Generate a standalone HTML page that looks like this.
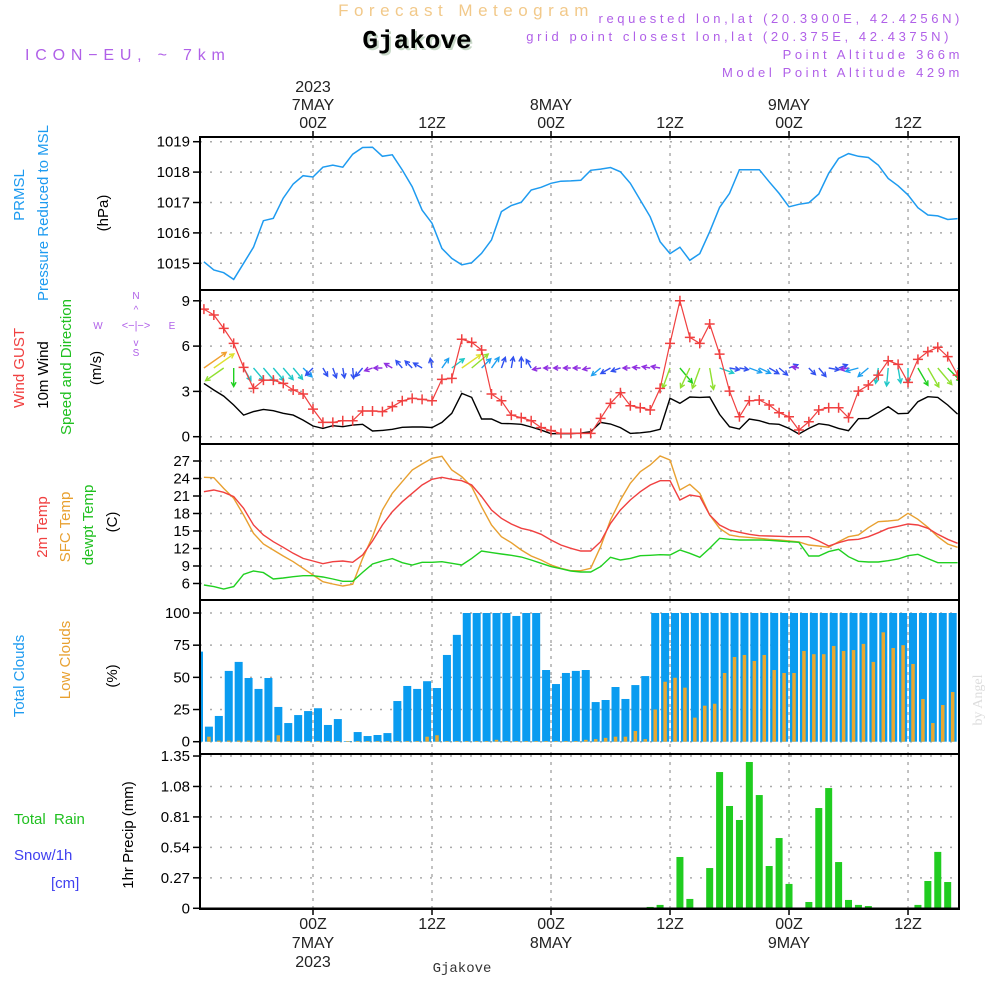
<!DOCTYPE html>
<html><head><meta charset="utf-8"><title>Forecast Meteogram Gjakove</title>
<style>
html,body{margin:0;padding:0;background:#fff;}
svg{display:block;font-family:"Liberation Sans",sans-serif;}
</style></head>
<body>
<svg id="chart" width="1000" height="1000" viewBox="0 0 1000 1000" xmlns="http://www.w3.org/2000/svg">
<rect width="1000" height="1000" fill="#fff"/>
<g id="header">
<text x="466" y="16" text-anchor="middle" font-size="17" fill="#f2c98a" letter-spacing="5.5">Forecast Meteogram</text>
<text x="419" y="50" text-anchor="middle" font-size="26" font-weight="bold" font-family="Liberation Mono,monospace" fill="#c8d8c8">Gjakove</text>
<text x="417" y="48" text-anchor="middle" font-size="26" font-weight="bold" font-family="Liberation Mono,monospace" fill="#000">Gjakove</text>
<text x="25" y="60" font-size="16" fill="#b060e8" letter-spacing="5.8">ICON−EU, ~ 7km</text>
<text x="963" y="23" text-anchor="end" font-size="13" fill="#b060e8" letter-spacing="3.6">requested lon,lat (20.3900E, 42.4256N)</text>
<text x="952" y="41" text-anchor="end" font-size="13" fill="#b060e8" letter-spacing="3.6">grid point closest lon,lat (20.375E, 42.4375N)</text>
<text x="963" y="59" text-anchor="end" font-size="13" fill="#b060e8" letter-spacing="3.6">Point Altitude 366m</text>
<text x="963" y="77" text-anchor="end" font-size="13" fill="#b060e8" letter-spacing="3.6">Model Point Altitude 429m</text>
</g>
<g id="grid"></g>
<g id="marks"></g>
<g id="frames"></g>
<g id="labels" font-size="14" fill="#000"></g>
<g id="side">
<text transform="translate(24,195) rotate(-90)" text-anchor="middle" font-size="15" fill="#1e9bf0">PRMSL</text>
<text transform="translate(48,213) rotate(-90)" text-anchor="middle" font-size="15" fill="#1e9bf0">Pressure Reduced to MSL</text>
<text transform="translate(108,213) rotate(-90)" text-anchor="middle" font-size="15" fill="#000">(hPa)</text>
<text transform="translate(24,368) rotate(-90)" text-anchor="middle" font-size="15" fill="#f04040">Wind GUST</text>
<text transform="translate(48,375) rotate(-90)" text-anchor="middle" font-size="15" fill="#000">10m Wind</text>
<text transform="translate(71,367) rotate(-90)" text-anchor="middle" font-size="15" fill="#20c020">Speed and Direction</text>
<text transform="translate(101,368) rotate(-90)" text-anchor="middle" font-size="15" fill="#000">(m/s)</text>
<g fill="#b060e8" font-size="10" text-anchor="middle">
<text x="136" y="299">N</text><text x="136" y="356">S</text><text x="98" y="329">W</text><text x="172" y="329">E</text>
<text x="136" y="329" font-size="11">&lt;−|−&gt;</text><text x="136" y="313" font-size="10">^</text><text x="136" y="346" font-size="10">v</text>
</g>
<text transform="translate(47,527) rotate(-90)" text-anchor="middle" font-size="15" fill="#f04040">2m Temp</text>
<text transform="translate(70,527) rotate(-90)" text-anchor="middle" font-size="15" fill="#e8a030">SFC Temp</text>
<text transform="translate(93,525) rotate(-90)" text-anchor="middle" font-size="15" fill="#20c020">dewpt Temp</text>
<text transform="translate(117,522) rotate(-90)" text-anchor="middle" font-size="15" fill="#000">(C)</text>
<text transform="translate(24,676) rotate(-90)" text-anchor="middle" font-size="15" fill="#1e9bf0">Total Clouds</text>
<text transform="translate(70,660) rotate(-90)" text-anchor="middle" font-size="15" fill="#e8a030">Low Clouds</text>
<text transform="translate(117,676) rotate(-90)" text-anchor="middle" font-size="15" fill="#000">(%)</text>
<text x="14" y="824" font-size="15" fill="#20c020" xml:space="preserve">Total  Rain</text>
<text x="14" y="860" font-size="15" fill="#4040f0">Snow/1h</text>
<text x="51" y="888" font-size="15" fill="#4040f0">[cm]</text>
<text transform="translate(133,835) rotate(-90)" text-anchor="middle" font-size="15" fill="#000">1hr Precip (mm)</text>
<text transform="translate(982,700) rotate(-90)" text-anchor="middle" font-size="14" font-family="Liberation Serif,serif" fill="#ddd">by Angel</text>
<text x="462" y="972" text-anchor="middle" font-size="14" font-family="Liberation Mono,monospace" fill="#333">Gjakove</text>
</g>
</svg>
<script>
const pressure=[1015.05,1014.78,1014.69,1014.47,1015.0,1015.53,1016.40,1016.48,1017.14,1017.61,1017.88,1017.84,1018.16,1018.23,1018.16,1018.59,1018.81,1018.82,1018.52,1018.57,1018.07,1017.52,1016.75,1016.32,1015.49,1015.16,1014.95,1015.02,1015.33,1015.77,1016.70,1016.90,1017.01,1017.41,1017.50,1017.63,1017.70,1017.71,1017.73,1018.06,1018.10,1018.15,1018.01,1017.63,1017.08,1016.53,1015.71,1015.32,1015.53,1015.10,1015.32,1016.04,1016.84,1017.30,1018.08,1018.08,1018.08,1017.68,1017.30,1016.86,1016.94,1016.99,1017.28,1017.96,1018.45,1018.61,1018.52,1018.48,1018.23,1017.79,1017.55,1017.25,1016.83,1016.59,1016.56,1016.44,1016.47];
const gust=[8.45,8.06,7.17,6.18,4.59,3.2,3.75,3.75,3.53,3.09,2.83,1.83,0.95,0.95,1.06,1.06,1.7,1.7,1.66,1.99,2.38,2.54,2.47,2.38,3.8,3.86,6.45,6.25,5.74,2.83,2.38,1.43,1.26,1.06,0.6,0.4,0.22,0.22,0.22,0.22,1.21,2.21,2.91,2.05,1.92,1.77,3.2,6.18,9.0,6.58,6.18,7.46,5.47,3.02,1.32,2.38,2.43,2.1,1.59,1.32,0.44,0.99,1.77,1.92,1.92,1.26,3.02,3.42,4.08,5.03,4.79,3.6,5.12,5.63,5.92,5.3,4.08];
const windSpeed=[3.53,3.09,2.69,2.1,1.43,1.66,1.81,1.72,1.55,1.43,1.1,0.71,0.55,0.73,0.66,0.77,0.82,0.38,0.42,0.49,0.62,0.64,0.64,0.6,0.95,1.55,2.87,2.6,1.17,1.17,0.88,0.86,0.82,0.64,0.44,0.2,0.2,0.2,0.24,0.33,0.95,0.84,0.6,0.22,0.26,0.33,0.49,2.54,2.21,2.63,2.6,2.63,1.48,0.66,0.51,1.17,1.06,0.86,0.82,0.55,0.18,0.55,0.86,0.77,0.55,0.4,1.19,1.21,1.59,1.99,1.52,1.55,2.32,2.65,2.6,2.1,1.5];
const windToDir=[35,35,215,270,300,310,310,310,310,310,315,225,300,290,280,275,230,200,180,150,130,135,150,100,55,37,35,40,45,55,70,80,90,120,190,180,180,180,180,190,220,210,200,180,175,170,170,250,310,245,250,280,340,350,350,340,335,330,320,20,170,315,310,350,20,190,195,220,260,265,280,270,300,300,310,315,315];
const temp2m=[21.74,22.03,21.63,20.89,18.89,16.03,14.31,13.17,12.2,11.17,10.31,9.86,9.4,9.74,9.86,9.63,10.89,13.29,16.03,18.31,20.03,21.46,22.89,23.86,24.2,23.86,23.63,22.89,20.89,18.6,17.17,16.2,15.46,15.06,14.43,13.46,12.6,12.03,11.57,11.57,13.17,16.31,18.6,20.31,21.74,22.89,23.63,23.63,20.31,21.17,20.89,17.74,16.03,15.17,14.77,14.43,14.2,14.14,14.09,14.03,14.03,14.03,13.29,12.43,13.0,13.46,13.57,14.03,14.71,15.46,15.8,16.2,16.03,15.46,14.43,13.57,12.89];
const tempSfc=[24.2,24.14,22.31,20.6,17.74,14.6,12.77,11.74,10.71,9.74,8.6,7.46,6.31,5.91,5.57,5.86,10.31,14.03,18.6,21.46,23.46,25.46,26.49,27.46,27.8,25.46,24.31,22.6,19.17,16.03,14.03,13.0,11.74,10.71,10.03,9.17,8.6,8.2,8.2,8.6,12.31,16.89,20.31,23.17,25.17,26.31,27.86,27.17,22.03,23.0,21.46,17.74,15.46,14.31,14.03,13.91,13.74,13.57,13.46,13.29,13.11,12.6,12.43,12.2,13.17,14.03,14.31,15.57,16.6,16.71,16.89,18.03,17.0,15.63,14.03,12.77,12.2];
const dewpt=[5.74,5.46,5.06,5.46,7.57,8.14,7.86,6.77,6.94,7.17,7.34,7.34,7.11,6.77,6.37,6.37,7.91,9.34,9.86,10.26,9.57,9.17,9.63,9.63,9.74,9.46,9.17,10.31,11.57,11.29,11.06,10.83,10.54,10.03,9.46,8.89,8.54,8.14,7.97,7.97,8.89,10.49,10.03,10.31,10.77,10.83,10.94,10.89,11.74,11.17,10.49,12.03,13.74,13.57,13.46,13.46,13.46,13.4,13.29,13.17,13.06,10.71,10.71,11.46,11.86,10.6,9.8,9.69,9.69,9.91,10.2,10.77,11.0,10.26,9.57,9.57,9.57];
const totalClouds=[70,11.7,20,55,62,49.5,41,49.5,27,14.5,20.7,23.8,26,13,17.6,0.5,7.5,4.4,5.2,6.7,31.6,43.3,41,47,41.7,67.4,83,100,100,100,100,100,97.7,100,100,55.7,44.8,53.4,55,55.7,30.8,32.4,42.5,33.2,44,51,100,100,100,100,100,100,100,100,100,100,100,100,100,100,100,100,100,100,100,100,100,100,100,100,100,100,100,100,100,100,100];
const lowClouds=[0,3.9,0.8,0.8,0.8,0.8,0.8,0.8,5,0.5,0.5,0.5,0.5,0.5,0.5,0.5,0.5,0.5,0.5,0.5,0.5,0.5,0.5,3.9,5,0.5,0.5,0.5,0.5,0.5,1.5,0.5,0.5,0.5,0.5,0.5,0.5,0.5,0.5,1.5,2,3,3.9,3.9,8.3,2,25,46.6,49.7,42,18.7,28,29.5,53.4,65.8,67.4,62.7,67.4,55.7,53.4,53.4,70.5,68,68,74.4,70.5,71.2,76,62,85,72.8,75,60.4,33.2,14.5,28.5,38.6];
const precip=[0,0,0,0,0,0,0,0,0,0,0,0,0,0,0,0,0,0,0,0,0,0,0,0,0,0.005,0,0,0,0,0,0,0,0,0,0,0,0,0,0,0,0,0,0,0,0.012,0.03,0,0.455,0.083,0,0.357,1.208,0.907,0.783,1.297,1.004,0.375,0.623,0.216,0,0.056,0.889,1.066,0.41,0.074,0.03,0.02,0,0,0,0,0.03,0.242,0.5,0.233,0];
const pressureTicks=[1015,1016,1017,1018,1019];
const windTicks=[0,3,6,9];
const tempTicks=[6,9,12,15,18,21,24,27];
const cloudTicks=[0,25,50,75,100];
const precipTicks=[0,0.27,0.54,0.81,1.08,1.35];
const precipTickLabels=["0","0.27","0.54","0.81","1.08","1.35"];
const timeHours=[0,12,24,36,48,60];
const topTimeLabels=[["2023","7MAY","00Z"],["12Z"],["8MAY","00Z"],["12Z"],["9MAY","00Z"],["12Z"]];
const bottomTimeLabels=[["00Z","7MAY","2023"],["12Z"],["00Z","8MAY"],["12Z"],["00Z","9MAY"],["12Z"]];

const NS="http://www.w3.org/2000/svg";
const L=200,R=959;
const HOUR=9.917,X0=313,FIRST=-11;
function xIdx(i){return X0+(i+FIRST)*HOUR;}
function xHour(h){return X0+h*HOUR;}
const yP=v=>141.7+(1019-v)*30.4;
const yW=v=>436.7-v*15.1;
const yT=v=>461-(v-27)*5.833;
const yC=v=>741.7-v*1.287;
const yR=v=>908.3-v*112.8;
const panels=[[137,290],[290,444],[444,600],[600,754],[754,909]];
function mk(tag,attrs,parent){const e=document.createElementNS(NS,tag);for(const k in attrs)e.setAttribute(k,attrs[k]);parent.appendChild(e);return e;}
const grid=document.getElementById('grid'),marks=document.getElementById('marks'),frames=document.getElementById('frames'),labels=document.getElementById('labels');
const defs=mk('defs',{},document.getElementById('chart'));
panels.forEach((p,k)=>{const cp=mk('clipPath',{id:'clip'+k},defs);mk('rect',{x:L,y:p[0],width:R-L,height:p[1]-p[0]},cp);});

panels.forEach(p=>{timeHours.forEach(h=>{const l=mk('line',{x1:xHour(h),x2:xHour(h),y1:p[0],y2:p[1],stroke:'#999','stroke-width':1.2,'stroke-dasharray':'3,5'},grid);

});});
function hgrid(ticks,yf,fmt,name){ticks.forEach((t,j)=>{const y=yf(t);
const g=mk('line',{x1:L,x2:R,y1:y,y2:y,stroke:'#aaa','stroke-width':1.5,'stroke-dasharray':'2,8'},grid);


const tk=mk('line',{x1:L-7,x2:L,y1:y,y2:y,stroke:'#000','stroke-width':1.5},labels);


const tx=mk('text',{x:L-10,y:y+5,'text-anchor':'end','font-size':15},labels);tx.textContent=fmt(t,j);

});}
hgrid(pressureTicks,yP,t=>t,'pressure');
hgrid(windTicks,yW,t=>t,'wind');
hgrid(tempTicks,yT,t=>t,'temp');
hgrid(cloudTicks,yC,t=>t,'cloud');
hgrid(precipTicks,yR,(t,j)=>precipTickLabels[j],'precip');

function poly(arr,xf,yf,color,name,clip,w){const pts=arr.map((v,i)=>xf(i).toFixed(1)+','+yf(v).toFixed(1)).join(' ');
const p=mk('polyline',{points:pts,fill:'none',stroke:color,'stroke-width':w||1.4,'clip-path':'url(#clip'+clip+')'},marks);

return p;}
poly(pressure,xIdx,yP,'#1e9bf0','pressure-line',0,1.5);
const cg=mk('g',{'clip-path':'url(#clip3)'},marks);
totalClouds.forEach((v,k)=>{const cx=xIdx(k-1)+5;
const b=mk('rect',{x:cx-4,y:yC(v),width:8,height:yC(0)-yC(v),fill:'#0a9cf0'},cg);

});
lowClouds.forEach((v,k)=>{const cx=xIdx(k-1)+5;
const b=mk('rect',{x:cx-1.75,y:yC(v),width:3.5,height:yC(0)-yC(v),fill:'#e8a830'},cg);

});
const pg=mk('g',{'clip-path':'url(#clip4)'},marks);
precip.forEach((v,i)=>{if(v<=0)return;const cx=xIdx(i);
const b=mk('rect',{x:cx-3.5,y:yR(v),width:7,height:yR(0)-yR(v),fill:'#20cc20'},pg);

});
const zl=mk('line',{x1:L,x2:R,y1:yR(0),y2:yR(0),stroke:'#000','stroke-width':1.5},pg);


poly(tempSfc,xIdx,yT,'#e8a030','sfc-temp-line',2);
poly(temp2m,xIdx,yT,'#f04040','temp-2m-line',2);
poly(dewpt,xIdx,yT,'#20d020','dewpoint-line',2);
poly(windSpeed,xIdx,yW,'#000','wind-speed-line',1);
function spdColor(s){if(s<0.5)return'#9030e0';if(s<0.9)return'#3050f0';if(s<1.3)return'#1ea0f0';if(s<2.0)return'#20c8c8';if(s<2.45)return'#20d020';if(s<2.8)return'#90e030';if(s<3.3)return'#e0e030';return'#f0a030';}
const ag=mk('g',{'clip-path':'url(#clip1)'},marks);
windToDir.forEach((d,i)=>{const s=windSpeed[i],len=6+6*s,a=d*Math.PI/180;
const x1=xIdx(i),y1=368,x2=x1+len*Math.cos(a),y2=y1-len*Math.sin(a);
const c=spdColor(s);
const h1=a+Math.PI-0.5,h2=a+Math.PI+0.5;
const path='M'+x1.toFixed(1)+','+y1+' L'+x2.toFixed(1)+','+y2.toFixed(1)+' M'+(x2+5*Math.cos(h1)).toFixed(1)+','+(y2-5*Math.sin(h1)).toFixed(1)+' L'+x2.toFixed(1)+','+y2.toFixed(1)+' L'+(x2+5*Math.cos(h2)).toFixed(1)+','+(y2-5*Math.sin(h2)).toFixed(1);
const ar=mk('path',{d:path,stroke:c,'stroke-width':1.4,fill:'none'},ag);

});
poly(gust,xIdx,yW,'#f04040','gust-line',1,1.2);
gust.forEach((v,i)=>{const x=xIdx(i),y=yW(v);
const m=mk('path',{d:'M'+(x-5)+','+y+' H'+(x+5)+' M'+x+','+(y-5)+' V'+(y+5),stroke:'#f04040','stroke-width':1.5,'clip-path':'url(#clip1)'},marks);

});
panels.forEach((p,k)=>{const r=mk('rect',{x:L,y:p[0],width:R-L,height:p[1]-p[0],fill:'none',stroke:'#000','stroke-width':2},frames);

});
timeHours.forEach((h,j)=>{const x=xHour(h);
const t1=mk('line',{x1:x,x2:x,y1:131,y2:137,stroke:'#000','stroke-width':1.5},labels);


const t2=mk('line',{x1:x,x2:x,y1:909,y2:915,stroke:'#000','stroke-width':1.5},labels);


const tl=topTimeLabels[j];tl.forEach((s,q)=>{const ty=128-(tl.length-1-q)*18;
const e=mk('text',{x:x,y:ty,'text-anchor':'middle','font-size':16,fill:'#222'},labels);e.textContent=s;

});
bottomTimeLabels[j].forEach((s,q)=>{const e=mk('text',{x:x,y:929+q*19,'text-anchor':'middle','font-size':16,fill:'#222'},labels);e.textContent=s;

});});
</script>
</body></html>
